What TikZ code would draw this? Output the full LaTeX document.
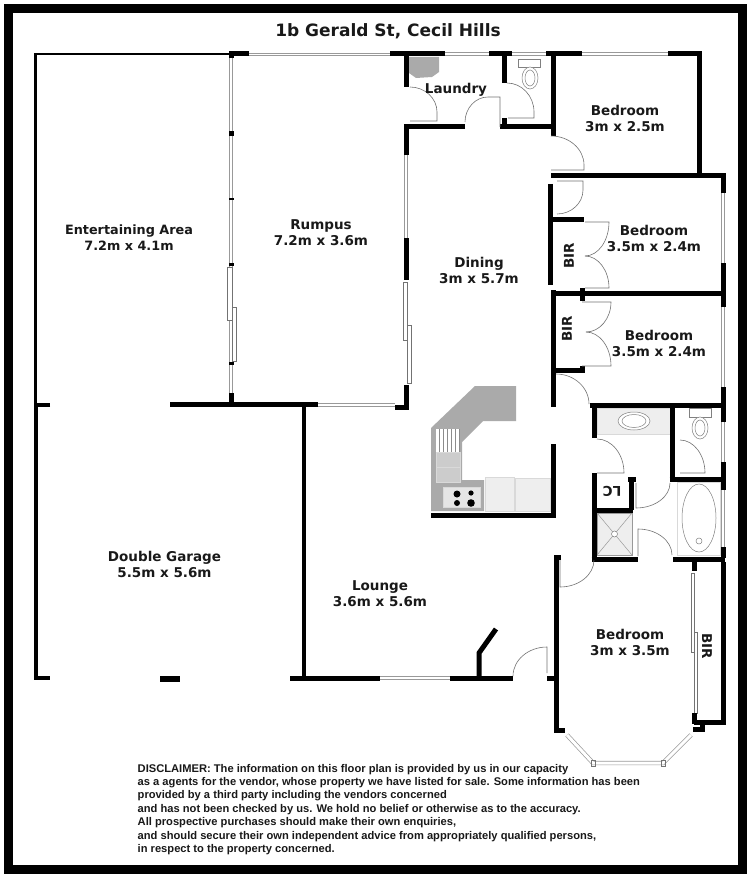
\documentclass[tikz,border=0pt]{standalone}
\usepackage{fontspec}
\usepackage{xcolor}
\setmainfont{DejaVu Sans}
\newfontfamily\notefont{Liberation Sans}
\usetikzlibrary{positioning,calc}
\definecolor{benchgrey}{RGB}{170,170,170}
\definecolor{fitgrey}{RGB}{238,238,238}
\newcommand{\swing}[2]{.. controls ($(\swingfrom)!.55!(#1)$) and ($(#2)!.55!(#1)$) .. (#2)}

\begin{document}
\begin{tikzpicture}[
    x=1pt, y=-1pt,
    wall/.style={line width=5pt, line cap=butt},
    thinwall/.style={line width=2.6pt},
    glass/.style={draw=black!40, line width=0.7pt, double=white, double distance=1.8pt},
    slider/.style={draw=black!55, line width=0.6pt, fill=white},
    door/.style={draw=black!55, line width=0.6pt},
    fitting/.style={draw=black!15, line width=0.5pt, fill=fitgrey},
    fixture/.style={draw=black!50, line width=0.5pt, fill=white},
    room/.style={font=\bfseries\fontsize{13.5}{16}\selectfont, align=center, text=black!90},
    cupboard/.style={font=\bfseries\fontsize{13.5}{16}\selectfont, text=black!90}
]
\useasboundingbox (0,0) rectangle (750,877);
\fill[white] (0,0) rectangle (750,877);
\draw[line width=9pt] (8,8.5) rectangle (742.5,869);

\node[font=\bfseries\fontsize{17}{20}\selectfont, text=black!90] (title) at (388,31) {1b Gerald St, Cecil Hills};

% kitchen
\fill[benchgrey] (475,386) -- (516,386) -- (516,421) -- (483,421) -- (462,442) -- (462,480) -- (484,480) -- (484,511) -- (431,511) -- (431,428) -- cycle;
\fill[white] (436,429) rectangle (460,452);
\foreach \xpos in {439,443,447,451,455,459}
  \draw[black!45, line width=0.8pt] (\xpos,429) -- (\xpos,452);
\draw[fitting, fill=black!20] (436,452) rectangle (460,467);
\draw[fitting, fill=black!20] (436,467) rectangle (460,482);
\draw[fitting, fill=white!90!black] (443,487) rectangle (480,507);
\fill (457,494) circle (3.5);
\fill (471,493) circle (2.6);
\fill (457,503) circle (3);
\fill (471,503) circle (3.8);
\draw[fitting] (485,477) rectangle (514,511);
\draw[fitting] (515,478) rectangle (550,511);

% laundry and toilets
\fill[benchgrey] (409,57) -- (439,57) -- (439,72) -- (432,77) -- (416,78) -- (409,73) -- cycle;
\draw[fixture] (518,59) rectangle (540,67);
\draw[fixture] (530,78) ellipse (8 and 11);
\draw[fixture] (530,78) ellipse (5 and 8);
\draw[fixture] (689,408) rectangle (711,417);
\draw[fixture] (700,428) ellipse (8 and 11);
\draw[fixture] (700,428) ellipse (5 and 8);

% bathroom
\draw[fitting] (597,408) rectangle (670,434);
\draw[fixture] (634,421) ellipse (16 and 9);
\draw[fixture] (634,421) ellipse (12 and 6.5);
\draw[fitting, fill=white] (677,482) rectangle (720,555);
\draw[fixture] (699,518) ellipse (17 and 34);
\draw[fixture] (699,541) circle (3);
\draw[fitting, fill=fitgrey, draw=black!40] (597,513) rectangle (632,555);
\draw[black!40, line width=0.5pt] (597,513) -- (632,555) (632,513) -- (597,555);
\draw[fixture] (614.5,534) circle (3);

% windows
\draw[glass] (249,54.5) -- (390,54.5);
\draw[glass] (445,54) -- (489,54);
\draw[glass] (512,54) -- (546,54);
\draw[glass] (582,54) -- (668,54);
\draw[glass] (231,56) -- (231,393);
\draw[glass] (406,155) -- (406,238);
\draw[glass] (318,405) -- (395,405);
\draw[glass] (723,193) -- (723,263);
\draw[glass] (723,307) -- (723,387);
\draw[glass] (723,422) -- (723,462);
\draw[glass] (723,490) -- (723,547);
\draw[glass] (380,678) -- (450,678);
\draw[glass, double distance=3pt] (567,735) -- (593,763) -- (663,763) -- (691,735);
\draw[door] (591,760) rectangle (595,766) (661,760) rectangle (665,766);

% sliding doors
\draw[slider] (227,267) rectangle (232,320);
\draw[slider] (232,307) rectangle (236,361);
\draw[slider] (403,282) rectangle (407,340);
\draw[slider] (407,325) rectangle (411,383);
\draw[slider] (691,573) rectangle (694,652);
\draw[slider] (694,632) rectangle (697,713);

% thin outer walls
\draw[thinwall] (229,54) -- (35.5,54) -- (35.5,405);
\fill (228.5,52) rectangle (233.5,58);
\fill (228.5,131) rectangle (233.5,136);
\fill (228.5,198) rectangle (233.5,200.5);
\fill (228.5,263) rectangle (233.5,265.5);
\fill (228.5,362) rectangle (233.5,364.5);

% garage
\draw[wall, line width=4.5pt] (50,405) -- (36,405) -- (36,678) -- (50,678);
\draw[wall, line width=5.5pt] (160,679) -- (180,679);
\draw[wall, line width=4.5pt] (170,404.5) -- (318,404.5);
\draw[wall, line width=4.5pt] (304,405) -- (304,678);
\draw[wall] (231,393) -- (231,405);

% rumpus, laundry, dining
\draw[wall] (229,54) -- (249,54);
\draw[wall] (390,54) -- (445,54);
\draw[wall] (489,54) -- (512,54);
\draw[wall] (546,54) -- (582,54);
\draw[wall] (668,54) -- (701.5,54);
\draw[wall] (406,54) -- (406,87);
\draw[wall] (504,54) -- (504,83);
\draw[wall] (553,54) -- (553,136);
\draw[wall] (699,54) -- (699,176);
\draw[wall] (465,127) -- (406,127) -- (406,155);
\draw[wall] (500,127) -- (553,127);
\draw[wall] (504,118) -- (504,127);
\draw[wall] (406,238) -- (406,280);
\draw[wall] (406,385) -- (406,407.5) -- (395,407.5);

% bedrooms
\draw[wall] (551,176) -- (725.5,176);
\draw[wall] (723,176) -- (723,193);
\draw[wall] (723,263) -- (723,307);
\draw[wall] (550,184) -- (550,285);
\draw[wall] (552,220) -- (584,220);
\draw[wall] (553,290) -- (553,407);
\draw[wall] (551,293) -- (725.5,293);
\draw[wall] (582,288) -- (582,301);
\draw[wall] (553,370) -- (584,370);
\draw[wall] (582,366) -- (582,373);

% bathroom walls
\draw[wall] (590,405) -- (725.5,405);
\draw[wall] (723,387) -- (723,422);
\draw[wall] (723,462) -- (723,490);
\draw[wall] (723,547) -- (723,558);
\draw[wall] (594,405) -- (594,438);
\draw[wall] (594,473) -- (594,559);
\draw[wall] (594,510) -- (633,510);
\draw[wall] (631,480) -- (631,510);
\draw[wall] (628,479) -- (636,479);
\draw[wall] (672,405) -- (672,479);
\draw[wall] (669.5,479) -- (725.5,479);
\draw[wall] (591.5,559) -- (638,559);
\draw[wall] (673,559) -- (725,559);

% kitchen walls
\draw[wall] (431,515) -- (555.5,515);
\draw[wall] (553,444) -- (553,515);

% lounge
\draw[wall] (290,678) -- (380,678);
\draw[wall] (450,678) -- (513,678);
\draw[wall] (479,678) -- (479,653) -- (496,629);
\draw[wall] (547,678) -- (556,678);

% bedroom with bay
\draw[wall] (561,557) -- (556,557) -- (556,730) -- (565,730);
\draw[wall] (694,562) -- (694,571);
\draw[wall] (723,562) -- (723,722) -- (694,722);
\draw[wall] (694,713) -- (694,724);
\draw[wall] (702,722) -- (702,729) -- (693,729);

% doors
\def\swingfrom{410,87}
\draw[door] (\swingfrom) \swing{437,87}{437,112} -- (437,121) -- (410,121);
\def\swingfrom{465,122}
\draw[door] (\swingfrom) \swing{465,97}{488,97} -- (500,97) -- (500,127);
\def\swingfrom{507,83}
\draw[door] (\swingfrom) \swing{534,83}{534,112} -- (534,118) -- (508,118);
\def\swingfrom{551,136}
\draw[door] (\swingfrom) \swing{584,136}{584,165} -- (584,170) -- (551,170);
\def\swingfrom{557,214}
\draw[door] (\swingfrom) \swing{583,214}{583,190} -- (583,181) -- (557,181);
\def\swingfrom{609,222}
\draw[door] (585,222) -- (\swingfrom) \swing{609,256}{585,256};
\def\swingfrom{585,256}
\draw[door] (\swingfrom) \swing{609,256}{609,288} -- (585,288);
\def\swingfrom{611,302}
\draw[door] (582,302) -- (\swingfrom) \swing{611,332}{586,332};
\def\swingfrom{586,332}
\draw[door] (\swingfrom) \swing{611,332}{611,366} -- (582,366);
\def\swingfrom{556,374}
\draw[door] (\swingfrom) \swing{589,374}{589,404};
\def\swingfrom{597,439}
\draw[door] (\swingfrom) \swing{624,439}{624,473} -- (597,473);
\def\swingfrom{680,440}
\draw[door] (\swingfrom) \swing{705,440}{705,473} -- (680,473);
\def\swingfrom{636,508}
\draw[door] (636,483) -- (\swingfrom) \swing{670,508}{670,483};
\def\swingfrom{638,529}
\draw[door] (638,556) -- (\swingfrom) \swing{672,529}{672,555};
\def\swingfrom{560,587}
\draw[door] (560,560) -- (\swingfrom) \swing{594,587}{594,560};
\def\swingfrom{513,676}
\draw[door] (\swingfrom) \swing{513,647}{547,647} -- (547,673);

% labels
\node[room, font=\bfseries\fontsize{12.8}{16}\selectfont] (entertaining) at (129,238) {Entertaining Area\\7.2m x 4.1m};
\node[room] (rumpus) at (321,233) {Rumpus\\7.2m x 3.6m};
\node[room] (laundry) at (456,90) {Laundry};
\node[room] (dining) at (479,270) {Dining\\3m x 5.7m};
\node[room] (bedone) at (625,118) {Bedroom\\3m x 2.5m};
\node[room] (bedtwo) at (654,238) {Bedroom\\3.5m x 2.4m};
\node[room] (bedthree) at (659,343) {Bedroom\\3.5m x 2.4m};
\node[room] (bedfour) at (630,642) {Bedroom\\3m x 3.5m};
\node[room] (garage) at (164.5,564) {Double Garage\\5.5m x 5.6m};
\node[room] (lounge) at (380,594) {Lounge\\3.6m x 5.6m};
\node[cupboard, rotate=90] (birtwo) at (569,256) {BIR};
\node[cupboard, rotate=90] (birthree) at (567,329) {BIR};
\node[cupboard, rotate=-90] (birfour) at (707,646) {BIR};
\node[cupboard, rotate=180] (linen) at (612,491) {LC};

\node[anchor=north west, inner sep=0pt, align=left, font=\notefont\bfseries\fontsize{11.15}{13.35}\selectfont, text=black!90] (disclaimer) at (137.5,764) {DISCLAIMER: The information on this floor plan is provided by us in our capacity\\
as a agents for the vendor, whose property we have listed for sale. Some information has been\\
provided by a third party including the vendors concerned\\
and has not been checked by us. We hold no belief or otherwise as to the accuracy.\\
All prospective purchases should make their own enquiries,\\
and should secure their own independent advice from appropriately qualified persons,\\
in respect to the property concerned.};

\end{tikzpicture}
\end{document}
